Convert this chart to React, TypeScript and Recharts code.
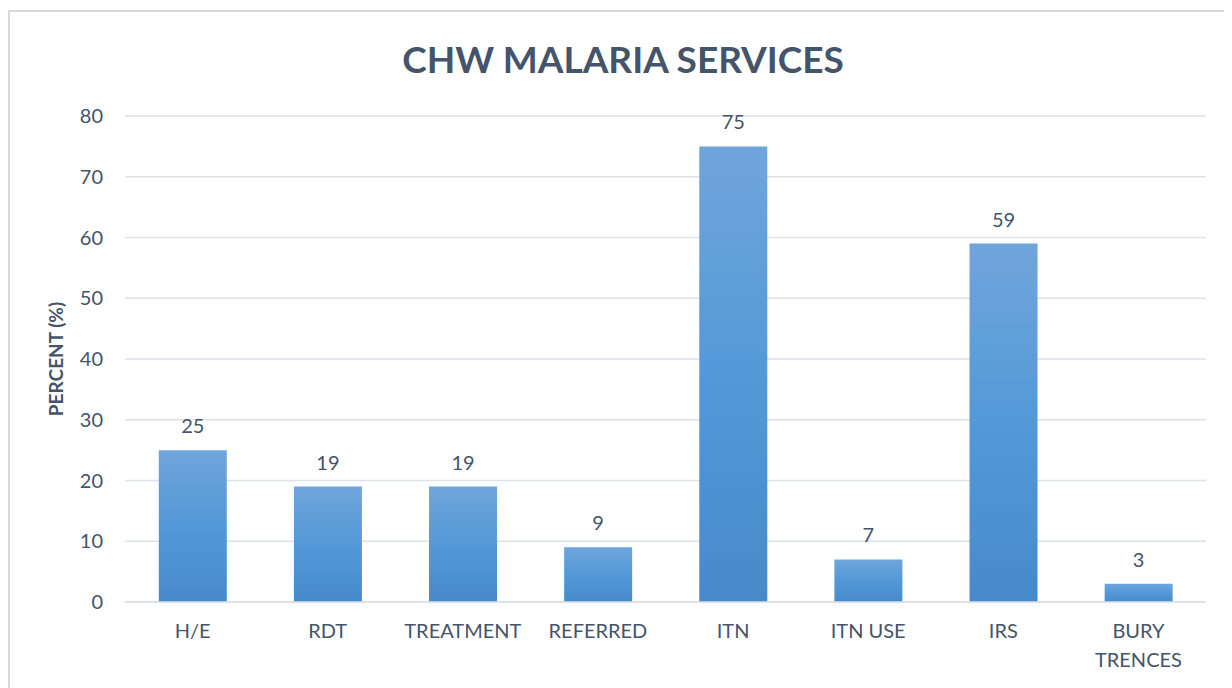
import React from 'react';
import { BarChart, Bar, XAxis, YAxis, CartesianGrid, LabelList, Label } from 'recharts';

const categories = ['H/E', 'RDT', 'TREATMENT', 'REFERRED', 'ITN', 'ITN USE', 'IRS', 'BURY\nTRENCES'];
const percents = [25, 19, 19, 9, 75, 7, 59, 3];
const yTicks = [0, 10, 20, 30, 40, 50, 60, 70, 80];

const data = categories.map((name, i) => ({ name, value: percents[i] }));

const textColor = '#44546A';
const font = 'Lato, "Open Sans", sans-serif';

const CategoryTick = (props: any) => {
  const { x, y, payload } = props;
  const lines = String(payload.value).split('\n');
  return (
    <text x={x} y={y + 14} textAnchor="middle" fill={textColor} fontSize={20} fontFamily={font}>
      {lines.map((l, i) => (
        <tspan key={i} x={x} dy={i === 0 ? '0.71em' : 29}>{l}</tspan>
      ))}
    </text>
  );
};

export default function App() {
  return (
    <div style={{ position: 'relative', width: 1240, height: 700, marginTop: 2, border: '2px solid #D9D9D9', boxSizing: 'border-box', background: '#fff' }}>
      <div style={{ position: 'absolute', left: 0, top: 24, width: 1226, textAlign: 'center', fontFamily: font, fontWeight: 700, fontSize: 37, color: textColor }}>
        CHW MALARIA SERVICES
      </div>
      <BarChart width={1236} height={680} data={data} margin={{ top: 104, right: 40, bottom: 60, left: 0 }} barCategoryGap="25%">
        <defs>
          <linearGradient id="barGrad" x1="0" y1="0" x2="0" y2="1">
            <stop offset="0%" stopColor="#70A5DB" />
            <stop offset="50%" stopColor="#5399D8" />
            <stop offset="100%" stopColor="#468ACA" />
          </linearGradient>
        </defs>
        <CartesianGrid vertical={false} stroke="#DDE1E8" strokeWidth={1.5} />
        <XAxis dataKey="name" tick={<CategoryTick />} tickLine={false} axisLine={{ stroke: '#DDE1E8', strokeWidth: 1.5 }} interval={0} height={30} />
        <YAxis domain={[0, 80]} ticks={yTicks} width={115} tickLine={false} axisLine={false} tickSize={0} tickMargin={22}
          tick={{ fill: textColor, fontSize: 20, fontFamily: font }}>
          <Label value="PERCENT (%)" angle={-90} position="insideLeft" offset={46}
            style={{ textAnchor: 'middle', fill: textColor, fontWeight: 700, fontSize: 19, fontFamily: font }} />
        </YAxis>
        <Bar dataKey="value" fill="url(#barGrad)" isAnimationActive={false} maxBarSize={68}>
          <LabelList dataKey="value" position="top" offset={17} fill={textColor} fontSize={20} fontFamily={font} />
        </Bar>
      </BarChart>
    </div>
  );
}
